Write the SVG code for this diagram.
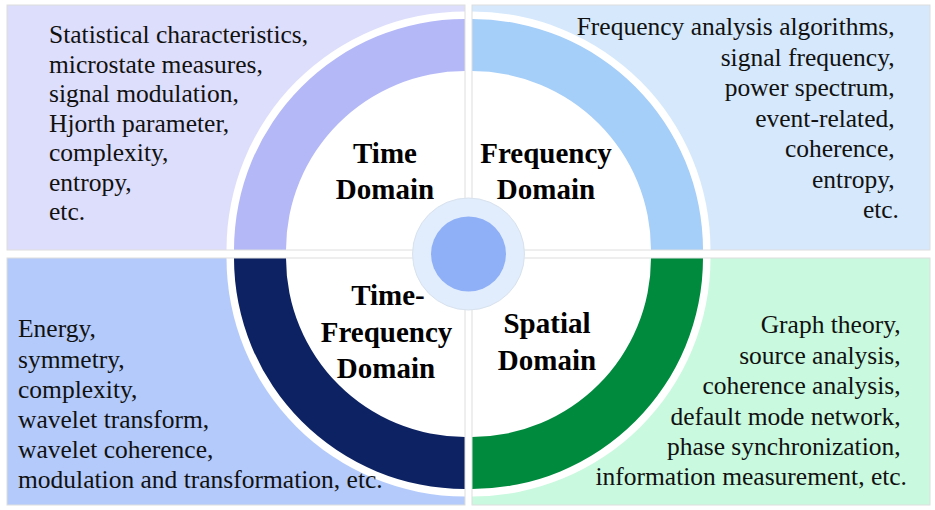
<svg xmlns="http://www.w3.org/2000/svg" width="935" height="510" viewBox="0 0 935 510">
<style>
.box{stroke:none}
.edge{fill:none;stroke:#dedede;stroke-width:1}
.gap{fill:#ffffff}
.body{font-family:"Liberation Serif","Times New Roman",serif;font-size:25.5px;fill:#111111}
.title{font-family:"Liberation Serif","Times New Roman",serif;font-size:29px;font-weight:bold;fill:#000000;text-anchor:middle}
.r{text-anchor:end}
</style>
<rect x="0" y="0" width="935" height="510" fill="#ffffff"/>

<g id="time-domain">
<rect class="box" x="7" y="5" width="458" height="245" fill="#dddefb"/>
<path class="gap" d="M465,250 L226.5,250 A238.5,238.5 0 0 1 465,11.5 Z"/>
<path d="M234,250 A231,231 0 0 1 465,19 L465,71 A179,179 0 0 0 286,250 Z" fill="#b4b8f7"/>
<rect class="edge" x="7" y="5" width="458" height="245"/>
<text class="title" x="385" y="163">Time</text>
<text class="title" x="385" y="199">Domain</text>
<text class="body" x="49">
<tspan x="49" y="43">Statistical characteristics,</tspan>
<tspan x="49" y="72.5">microstate measures,</tspan>
<tspan x="49" y="102">signal modulation,</tspan>
<tspan x="49" y="131.5">Hjorth parameter,</tspan>
<tspan x="49" y="161">complexity,</tspan>
<tspan x="49" y="190.5">entropy,</tspan>
<tspan x="49" y="220">etc.</tspan>
</text>
</g>

<g id="frequency-domain">
<rect class="box" x="472" y="5" width="458" height="245" fill="#d5e8fc"/>
<path class="gap" d="M472,250 L472,11.5 A238.5,238.5 0 0 1 710.5,250 Z"/>
<path d="M472,19 A231,231 0 0 1 703,250 L651,250 A179,179 0 0 0 472,71 Z" fill="#a5cef8"/>
<rect class="edge" x="472" y="5" width="458" height="245"/>
<text class="title" x="546" y="163">Frequency</text>
<text class="title" x="546" y="199">Domain</text>
<text class="body r">
<tspan x="901" y="35">Frequency analysis algorithms,</tspan>
<tspan x="901" y="65.5">signal frequency,</tspan>
<tspan x="901" y="96">power spectrum,</tspan>
<tspan x="901" y="126.5">event-related,</tspan>
<tspan x="901" y="157">coherence,</tspan>
<tspan x="901" y="187.5">entropy,</tspan>
<tspan x="899" y="218">etc.</tspan>
</text>
</g>

<g id="time-frequency-domain">
<rect class="box" x="7" y="258" width="458" height="247" fill="#b3cafb"/>
<path class="gap" d="M465,258 L226.5,258 A238.5,238.5 0 0 0 465,496.5 Z"/>
<path d="M234,258 A231,231 0 0 0 465,489 L465,437 A179,179 0 0 1 286,258 Z" fill="#0c2262"/>
<rect class="edge" x="7" y="258" width="458" height="247"/>
<text class="title" x="388" y="305">Time-</text>
<text class="title" x="386.5" y="342">Frequency</text>
<text class="title" x="386" y="378">Domain</text>
<text class="body">
<tspan x="18" y="337">Energy,</tspan>
<tspan x="18" y="367.5">symmetry,</tspan>
<tspan x="18" y="397.5">complexity,</tspan>
<tspan x="18" y="427.5">wavelet transform,</tspan>
<tspan x="18" y="457.5">wavelet coherence,</tspan>
<tspan x="18" y="488">modulation and transformation, etc.</tspan>
</text>
</g>

<g id="spatial-domain">
<rect class="box" x="472" y="258" width="458" height="247" fill="#c9f9de"/>
<path class="gap" d="M472,258 L710.5,258 A238.5,238.5 0 0 1 472,496.5 Z"/>
<path d="M703,258 A231,231 0 0 1 472,489 L472,437 A179,179 0 0 0 651,258 Z" fill="#008a3e"/>
<rect class="edge" x="472" y="258" width="458" height="247"/>
<text class="title" x="547" y="333">Spatial</text>
<text class="title" x="547" y="370">Domain</text>
<text class="body r">
<tspan x="907" y="333">Graph theory,</tspan>
<tspan x="907" y="363.5">source analysis,</tspan>
<tspan x="907" y="394">coherence analysis,</tspan>
<tspan x="907" y="424.5">default mode network,</tspan>
<tspan x="907" y="455">phase synchronization,</tspan>
<tspan x="907" y="485">information measurement, etc.</tspan>
</text>
</g>

<g id="center">
<circle cx="468.5" cy="254" r="56" fill="#e1edfc" stroke="#d8e2ee" stroke-width="1"/>
<circle cx="468.5" cy="254" r="37.5" fill="#8fb0f7"/>
</g>

<g id="connectors"></g>
</svg>
